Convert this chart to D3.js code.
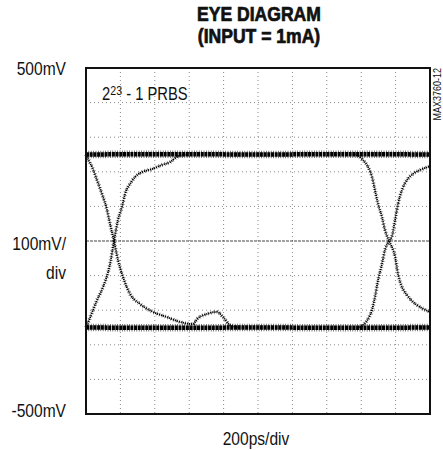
<!DOCTYPE html>
<html>
<head>
<meta charset="utf-8">
<script src="https://cdn.jsdelivr.net/npm/d3@7"></script>
<style>
  html, body { margin: 0; padding: 0; background: #fff; }
  svg { display: block; }
  text { font-family: "Liberation Sans", Arial, Helvetica, sans-serif; fill: #111; }
</style>
</head>
<body>
<script>
// ---- Data (time in ps, amplitude in mV) ----
const titleLines = ["EYE DIAGRAM", "(INPUT = 1mA)"];
const yLabelTop = "500mV";
const yLabelMid = ["100mV/", "div"];
const yLabelBottom = "-500mV";
const xLabel = "200ps/div";
const noteBase = "2", noteSup = "23", noteRest = " - 1 PRBS";
const figId = "MAX3760-12";

const timeDomain = [0, 2000];
const voltDomain = [-500, 500];

// logic levels (noisy bands)
const highLevel = [[0, 250], [500, 251], [1000, 250], [1500, 251], [2000, 250]];
const lowLevel  = [[0, -250], [500, -251], [1000, -250], [1500, -251], [2000, -250]];

// transitions
const falling1 = [[0,250],[6,243],[35,214],[64,176],[93,136],[122,90],[140,49],[163,0],[186,-55],[215,-104],[256,-153],[314,-182],[390,-205],[471,-220],[547,-234],[622,-240],[645,-226],[703,-211],[762,-205],[797,-220],[837,-243],[895,-250]];
const rising1  = [[0,-250],[6,-243],[64,-171],[99,-133],[140,-66],[163,0],[186,61],[209,98],[227,136],[256,165],[285,185],[326,199],[384,208],[442,220],[488,228],[529,243],[587,250]];
const falling2 = [[1560,250],[1576,248],[1610,234],[1640,214],[1663,185],[1680,147],[1698,107],[1721,69],[1738,32],[1762,0],[1797,-46],[1814,-95],[1837,-133],[1866,-156],[1901,-176],[1942,-191],[2000,-205]];
const rising2  = [[1590,-250],[1610,-243],[1640,-225],[1663,-199],[1680,-162],[1698,-113],[1721,-66],[1738,-26],[1762,0],[1779,14],[1797,61],[1814,107],[1837,147],[1866,176],[1901,194],[1942,205],[1988,214],[2000,216]];

// ---- Chart ----
const W = 443, H = 450;
const plot = { left: 86, right: 430, top: 68, bottom: 414 };
const NARROW = 0.82;

const svg = d3.select("body").append("svg").attr("width", W).attr("height", H);
svg.append("rect").attr("width", W).attr("height", H).attr("fill", "#fff");

const x = d3.scaleLinear().domain(timeDomain).range([plot.left, plot.right]);
const y = d3.scaleLinear().domain(voltDomain).range([plot.bottom, plot.top]);

// grid
const grid = svg.append("g");
x.ticks(10).filter(t => t > timeDomain[0] && t < timeDomain[1]).forEach(t => {
  grid.append("line").attr("x1", x(t)).attr("x2", x(t)).attr("y1", plot.top).attr("y2", plot.bottom)
    .attr("stroke", "#8a8a8a").attr("stroke-width", 1).attr("stroke-dasharray", "1,3");
});
y.ticks(10).filter(v => v > voltDomain[0] && v < voltDomain[1]).forEach(v => {
  grid.append("line").attr("x1", plot.left).attr("x2", plot.right).attr("y1", y(v)).attr("y2", y(v))
    .attr("stroke", v === 0 ? "#444" : "#8a8a8a").attr("stroke-width", 1)
    .attr("stroke-dasharray", v === 0 ? "3,1" : "1,3");
});

const line = d3.line().x(d => x(d[0])).y(d => y(d[1])).curve(d3.curveMonotoneX);

const traces = svg.append("g");
[highLevel, lowLevel].forEach(d => {
  traces.append("path").attr("d", line(d)).attr("fill", "none")
    .attr("stroke", "#000").attr("stroke-width", 4.5).attr("stroke-dasharray", "3,0.7");
  traces.append("path").attr("d", line(d)).attr("fill", "none")
    .attr("stroke", "#000").attr("stroke-width", 7.5).attr("stroke-dasharray", "0.8,1.6").attr("opacity", 0.65);
});
[falling1, rising1, falling2, rising2].forEach(d => {
  traces.append("path").attr("d", line(d)).attr("fill", "none")
    .attr("stroke", "#000").attr("stroke-width", 1.8).attr("stroke-dasharray", "1.2,0.9");
  traces.append("path").attr("d", line(d)).attr("fill", "none")
    .attr("stroke", "#000").attr("stroke-width", 4).attr("stroke-dasharray", "0.8,2.2").attr("opacity", 0.55);
});

// frame
svg.append("rect").attr("x", plot.left).attr("y", plot.top)
  .attr("width", plot.right - plot.left).attr("height", plot.bottom - plot.top)
  .attr("fill", "none").attr("stroke", "#111").attr("stroke-width", 2);

// text helper: narrow (condensed) text via horizontal scaling
function addText(px, py, str, size, opts = {}) {
  const g = svg.append("g")
    .attr("transform", `translate(${px},${py})${opts.rotate ? ` rotate(${opts.rotate})` : ""} scale(${opts.sx || NARROW},1)`);
  const t = g.append("text").attr("text-anchor", opts.anchor || "start")
    .style("font-size", size + "px").style("font-weight", opts.weight || "normal");
  if (opts.heavy) t.attr("stroke", "#111").attr("stroke-width", opts.heavy);
  if (str !== null) t.text(str);
  return t;
}

// title
addText(259, 20.5, titleLines[0], 19.5, { anchor: "middle", weight: "bold", sx: 0.9, heavy: 0.7 });
addText(259, 43, titleLines[1], 19.5, { anchor: "middle", weight: "bold", sx: 0.9, heavy: 0.7 });

// y labels
addText(66, y(500) + 7, yLabelTop, 19, { anchor: "end" });
addText(66, y(0) + 9, yLabelMid[0], 19, { anchor: "end" });
addText(66, y(0) + 38, yLabelMid[1], 19, { anchor: "end" });
addText(66, y(-500) + 3, yLabelBottom, 19, { anchor: "end" });

// x label
addText(256, 445, xLabel, 19, { anchor: "middle" });

// note
const note = addText(102, 100, null, 18);
note.append("tspan").text(noteBase);
note.append("tspan").attr("dy", -5).style("font-size", "13px").text(noteSup);
note.append("tspan").attr("dy", 5).text(noteRest);

// figure id
addText(441, plot.top, figId, 11, { anchor: "end", rotate: -90 });
</script>
</body>
</html>
